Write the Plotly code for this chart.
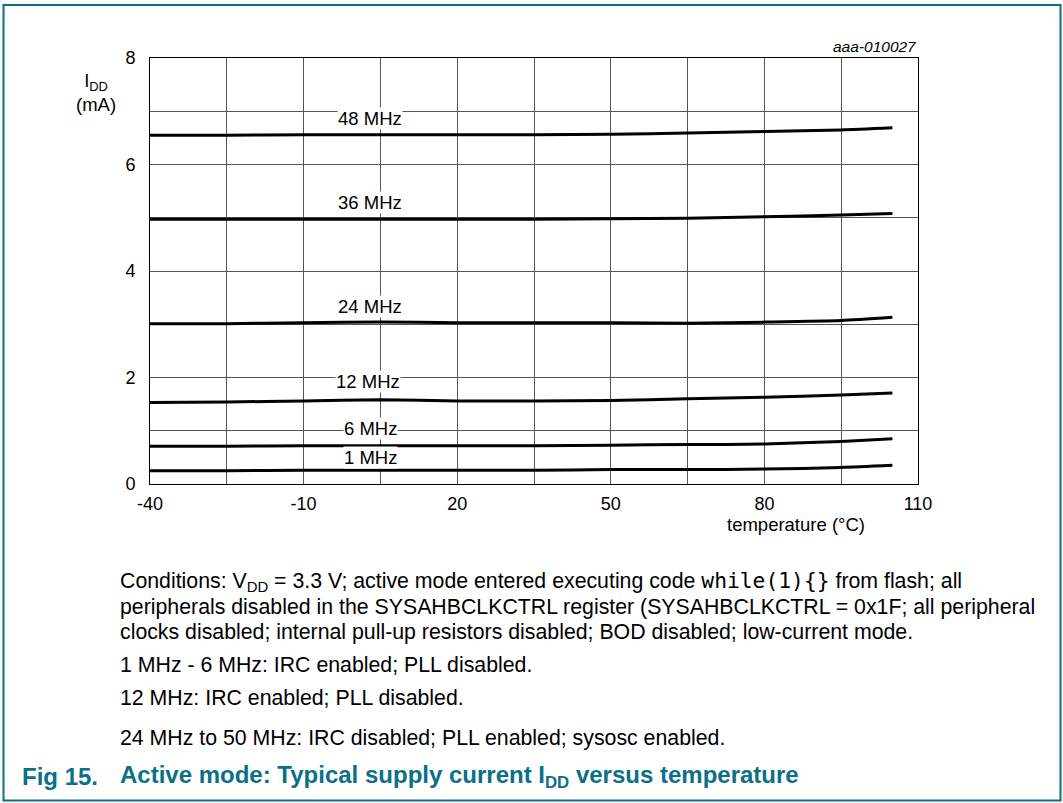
import plotly.graph_objects as go

# ---- data ----
temps = [-40, -25, -10, 5, 20, 35, 50, 65, 80, 95, 105]
i_48 = [6.55, 6.55, 6.56, 6.56, 6.56, 6.56, 6.57, 6.59, 6.62, 6.65, 6.69]
i_36 = [4.97, 4.97, 4.97, 4.97, 4.97, 4.97, 4.98, 4.99, 5.02, 5.05, 5.08]
i_24 = [3.01, 3.01, 3.03, 3.04, 3.03, 3.03, 3.03, 3.02, 3.04, 3.07, 3.13]
i_12 = [1.53, 1.54, 1.56, 1.58, 1.56, 1.56, 1.57, 1.60, 1.63, 1.67, 1.71]
i_6 = [0.71, 0.71, 0.72, 0.72, 0.72, 0.72, 0.73, 0.74, 0.75, 0.80, 0.85]
i_1 = [0.25, 0.25, 0.26, 0.26, 0.26, 0.26, 0.27, 0.27, 0.28, 0.31, 0.35]
series = [("48 MHz", i_48), ("36 MHz", i_36), ("24 MHz", i_24),
          ("12 MHz", i_12), ("6 MHz", i_6), ("1 MHz", i_1)]
label_y = [6.87, 5.28, 3.34, 1.92, 1.05, 0.49]
label_x = [3, 3, 3, 2.6, 3, 3]
x_tickvals = [-40, -10, 20, 50, 80, 110]
x_ticktext = ["-40", "-10", "20", "50", "80", "110"]
y_tickvals = [0, 2, 4, 6, 8]
y_ticktext = ["0", "2", "4", "6", "8"]

W, H = 1063, 803
L, R, T, B = 150, 918, 58, 484

def px(x):
    return (x - L) / (R - L)

def py(y):
    return (B - y) / (B - T)

fig = go.Figure()
for name, vals in series:
    fig.add_trace(go.Scatter(x=temps, y=vals, mode="lines", name=name,
                             line=dict(color="black", width=3, shape="spline", smoothing=0.6),
                             showlegend=False, hoverinfo="x+y"))

chart_font = dict(family="Liberation Sans", size=18.5, color="black")
annotations = []
for (name, _), lx, ly in zip(series, label_x, label_y):
    annotations.append(dict(x=lx, y=ly, xref="x", yref="y", text=name, showarrow=False,
                            font=chart_font, bgcolor="white", borderpad=0))

annotations += [
    dict(x=px(96), y=py(92), xref="paper", yref="paper", text="I<sub>DD</sub><br>(mA)",
         showarrow=False, font=chart_font, xanchor="center", yanchor="middle", align="center"),
    dict(x=px(796), y=py(524), xref="paper", yref="paper", text="temperature (°C)",
         showarrow=False, font=chart_font, xanchor="center", yanchor="middle"),
    dict(x=px(919), y=py(46), xref="paper", yref="paper", text="<i>aaa-010027</i>",
         showarrow=False, font=dict(family="Liberation Sans", size=15.5, color="black"),
         xanchor="right", yanchor="middle"),
]

base_font = dict(family="Liberation Sans", size=21.3, color="black")
notes = [
    (581, "Conditions: V<sub>DD</sub> = 3.3 V; active mode entered executing code "
          "<span style=\"font-family:'DejaVu Sans Mono'\">while(1){}</span> from flash; all"),
    (607, "peripherals disabled in the SYSAHBCLKCTRL register (SYSAHBCLKCTRL = 0x1F; all peripheral"),
    (632, "clocks disabled; internal pull-up resistors disabled; BOD disabled; low-current mode."),
    (665, "1 MHz - 6 MHz: IRC enabled; PLL disabled."),
    (698, "12 MHz: IRC enabled; PLL disabled."),
    (738, "24 MHz to 50 MHz: IRC disabled; PLL enabled; sysosc enabled."),
]
for y, t in notes:
    annotations.append(dict(x=px(118), y=py(y), xref="paper", yref="paper", text=t,
                            showarrow=False, font=base_font, xanchor="left", yanchor="middle"))

teal = "#0b6f87"
title_font = dict(family="Liberation Sans", size=24, color=teal)
annotations.append(dict(x=px(20), y=py(776), xref="paper", yref="paper",
                        text="<b>Fig 15.</b>", showarrow=False, font=title_font,
                        xanchor="left", yanchor="middle"))
annotations.append(dict(x=px(118), y=py(776), xref="paper", yref="paper",
                        text="<b>Active mode: Typical supply current I<sub>DD</sub> versus temperature</b>",
                        showarrow=False, font=title_font, xanchor="left", yanchor="middle"))

shapes = [dict(type="rect", xref="paper", yref="paper",
               x0=px(3.5), x1=px(1060.5), y0=py(5), y1=py(800.5),
               line=dict(color=teal, width=2), layer="above")]

tick_font = dict(family="Liberation Sans", size=18, color="black")
fig.update_layout(
    width=W, height=H,
    margin=dict(l=L, r=W - R, t=T, b=H - B),
    paper_bgcolor="white", plot_bgcolor="white",
    annotations=annotations, shapes=shapes,
    xaxis=dict(range=[-40, 110], tickvals=x_tickvals, ticktext=x_ticktext, showgrid=True,
               gridcolor="#555555", gridwidth=1,
               minor=dict(tick0=-40, dtick=15, showgrid=True, gridcolor="#555555", gridwidth=1),
               showline=True, linecolor="black", linewidth=1, mirror=True,
               ticks="", zeroline=False, ticklabelstandoff=3, tickfont=tick_font),
    yaxis=dict(range=[0, 8], tickvals=y_tickvals, ticktext=y_ticktext, showgrid=True,
               gridcolor="#555555", gridwidth=1,
               minor=dict(tick0=0, dtick=1, showgrid=True, gridcolor="#555555", gridwidth=1),
               showline=True, linecolor="black", linewidth=1, mirror=True,
               ticks="", zeroline=False, ticklabelstandoff=10, tickfont=tick_font),
)

fig.write_html("out.html", config={"displayModeBar": False},
               post_script="document.body.style.margin='0';document.body.style.overflow='hidden';")
